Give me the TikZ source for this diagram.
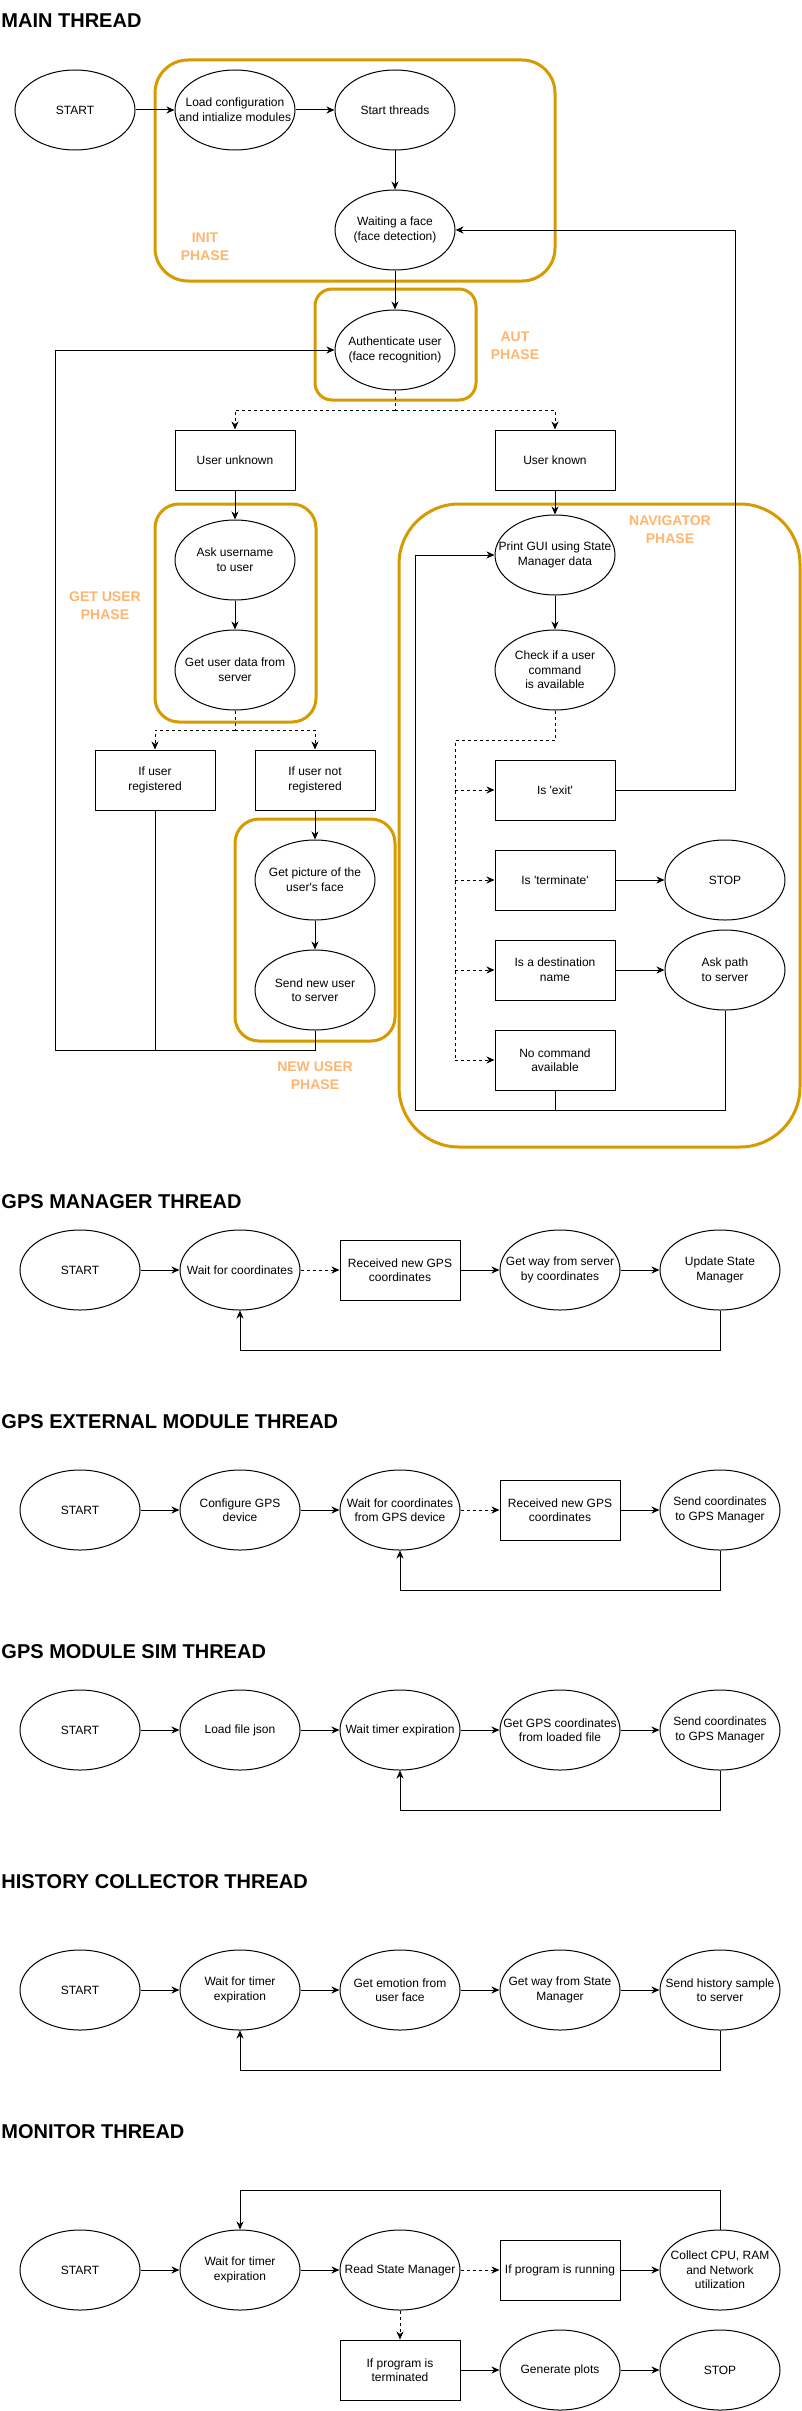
\documentclass[tikz,border=0pt]{standalone}
\usepackage{fontspec}
\setmainfont{Liberation Sans}
\usetikzlibrary{arrows.meta,shapes.geometric}
\definecolor{phase}{HTML}{D79B00}
\definecolor{phasetxt}{HTML}{FFB570}
\newcommand\EN[3]{\node[ell] (#1) at (#2) {}; \node[txt] at (#1.center) {#3};}
\begin{document}
\begin{tikzpicture}[x=1pt,y=-1pt,
  ell/.style={draw, ellipse, minimum width=120pt, minimum height=80pt, inner sep=0pt},
  txt/.style={align=center, inner sep=0pt, font=\fontsize{12}{14.6}\selectfont},
  box/.style={draw, rectangle, minimum width=120pt, minimum height=60pt, inner sep=0pt, align=center, font=\fontsize{12}{14.6}\selectfont},
  arr/.style={-{Stealth[length=8pt,width=7pt,inset=2.5pt]}},
  dsh/.style={dash pattern=on 3pt off 3pt},
  phasebox/.style={draw=phase, line width=3pt},
  phaselbl/.style={text=phasetxt, font=\bfseries\fontsize{14}{18}\selectfont, align=center, inner sep=0pt},
  title/.style={font=\bfseries\fontsize{20}{24}\selectfont, anchor=base west, inner sep=0pt},
  line width=1pt]
\fill[white] (0,0) rectangle (802,2411);
\useasboundingbox (0,0) rectangle (802,2411);

% ---------------- MAIN THREAD ----------------
\node[title] (t1) at (1,28) {MAIN THREAD};

\draw[phasebox, rounded corners=33pt] (155,60) rectangle (555,281);
\draw[phasebox, rounded corners=17pt] (315,289) rectangle (476,400);
\draw[phasebox, rounded corners=24pt] (155,504) rectangle (316,722);
\draw[phasebox, rounded corners=24pt] (235,819) rectangle (395,1041);
\draw[phasebox, rounded corners=60pt] (399,504) rectangle (800,1147);

\node[phaselbl] (l1) at (205,247) {INIT\\PHASE};
\node[phaselbl] (l2) at (515,346) {AUT\\PHASE};
\node[phaselbl] (l3) at (105,606) {GET USER\\PHASE};
\node[phaselbl] (l4) at (670,530) {NAVIGATOR\\PHASE};
\node[phaselbl] (l5) at (315,1076) {NEW USER\\PHASE};

\EN{start1}{75,110}{START}
\EN{load}{235,110}{Load configuration\\and intialize modules}
\EN{startthr}{395,110}{Start threads}
\EN{waitface}{395,230}{Waiting a face\\(face detection)}
\EN{auth}{395,350}{Authenticate user\\(face recognition)}
\node[box] (unknown) at (235,460) {User unknown};
\node[box] (known) at (555,460) {User known};
\EN{askname}{235,560}{Ask username\\to user}
\EN{getdata}{235,670}{Get user data from\\server}
\node[box] (registered) at (155,780) {If user\\registered};
\node[box] (notreg) at (315,780) {If user not\\registered};
\EN{picture}{315,880}{Get picture of the\\user\textquotesingle s face}
\EN{sendnew}{315,990}{Send new user\\to server}
\EN{printgui}{555,555}{Print GUI using State\\Manager data}
\EN{check}{555,670}{Check if a user\\command\\is available}
\node[box] (exit) at (555,790) {Is \textquotesingle exit\textquotesingle};
\node[box] (terminate) at (555,880) {Is \textquotesingle terminate\textquotesingle};
\EN{stop1}{725,880}{STOP}
\node[box] (dest) at (555,970) {Is a destination\\name};
\EN{askpath}{725,970}{Ask path\\to server}
\node[box] (nocmd) at (555,1060) {No command\\available};

\draw[arr] (start1) -- (load);
\draw[arr] (load) -- (startthr);
\draw[arr] (startthr) -- (waitface);
\draw[arr] (waitface) -- (auth);

\coordinate (s1) at (395,410);
\draw[dsh] (auth.south) -- (s1);
\draw[dsh,arr] (s1) -| (unknown.north);
\draw[dsh,arr] (s1) -| (known.north);

\draw[arr] (unknown) -- (askname);
\draw[arr] (askname) -- (getdata);

\coordinate (s2) at (235,730);
\draw[dsh] (getdata.south) -- (s2);
\draw[dsh,arr] (s2) -| (registered.north);
\draw[dsh,arr] (s2) -| (notreg.north);

\draw[arr] (notreg) -- (picture);
\draw[arr] (picture) -- (sendnew);

\coordinate (j1) at (315,1050);
\coordinate (j2) at (55,1050);
\coordinate (j3) at (55,350);
\draw[arr] (sendnew.south) -- (j1) -- (j2) -- (j3) -- (auth.west);
\draw (registered.south) -- (registered.south |- j1);

\draw[arr] (known) -- (printgui);
\draw[arr] (printgui) -- (check);

\coordinate (c1) at (555,740);
\coordinate (c2) at (455,740);
\draw[dsh] (check.south) -- (c1) -- (c2) -- (c2 |- nocmd);
\draw[dsh,arr] (c2 |- exit) -- (exit.west);
\draw[dsh,arr] (c2 |- terminate) -- (terminate.west);
\draw[dsh,arr] (c2 |- dest) -- (dest.west);
\draw[dsh,arr] (c2 |- nocmd) -- (nocmd.west);

\coordinate (e2) at (735,230);
\draw[arr] (exit.east) -| (e2) -- (waitface.east);

\draw[arr] (terminate) -- (stop1);
\draw[arr] (dest) -- (askpath);

\coordinate (p1) at (415,1110);
\draw[arr] (askpath.south) |- (p1) -- (p1 |- printgui) -- (printgui.west);
\draw (nocmd.south) -- (nocmd.south |- p1);

% ---------------- GPS MANAGER THREAD ----------------
\node[title] (t2) at (1,1208) {GPS MANAGER THREAD};
\EN{g1s}{80,1270}{START}
\EN{g1w}{240,1270}{Wait for coordinates}
\node[box] (g1r) at (400,1270) {Received new GPS\\coordinates};
\EN{g1g}{560,1270}{Get way from server\\by coordinates}
\EN{g1u}{720,1270}{Update State\\Manager}
\draw[arr] (g1s) -- (g1w);
\draw[dsh,arr] (g1w) -- (g1r);
\draw[arr] (g1r) -- (g1g);
\draw[arr] (g1g) -- (g1u);
\coordinate (g1l) at (720,1350);
\draw[arr] (g1u.south) -- (g1l) -| (g1w.south);

% ---------------- GPS EXTERNAL MODULE THREAD ----------------
\node[title] (t3) at (1,1428) {GPS EXTERNAL MODULE THREAD};
\EN{g2s}{80,1510}{START}
\EN{g2c}{240,1510}{Configure GPS\\device}
\EN{g2w}{400,1510}{Wait for coordinates\\from GPS device}
\node[box] (g2r) at (560,1510) {Received new GPS\\coordinates};
\EN{g2n}{720,1510}{Send coordinates\\to GPS Manager}
\draw[arr] (g2s) -- (g2c);
\draw[arr] (g2c) -- (g2w);
\draw[dsh,arr] (g2w) -- (g2r);
\draw[arr] (g2r) -- (g2n);
\coordinate (g2l) at (720,1590);
\draw[arr] (g2n.south) -- (g2l) -| (g2w.south);

% ---------------- GPS MODULE SIM THREAD ----------------
\node[title] (t4) at (1,1658) {GPS MODULE SIM THREAD};
\EN{g3s}{80,1730}{START}
\EN{g3l}{240,1730}{Load file json}
\EN{g3w}{400,1730}{Wait timer expiration}
\EN{g3g}{560,1730}{Get GPS coordinates\\from loaded file}
\EN{g3n}{720,1730}{Send coordinates\\to GPS Manager}
\draw[arr] (g3s) -- (g3l);
\draw[arr] (g3l) -- (g3w);
\draw[arr] (g3w) -- (g3g);
\draw[arr] (g3g) -- (g3n);
\coordinate (g3b) at (720,1810);
\draw[arr] (g3n.south) -- (g3b) -| (g3w.south);

% ---------------- HISTORY COLLECTOR THREAD ----------------
\node[title] (t5) at (1,1888) {HISTORY COLLECTOR THREAD};
\EN{h1s}{80,1990}{START}
\EN{h1w}{240,1990}{Wait for timer\\expiration}
\EN{h1e}{400,1990}{Get emotion from\\user face}
\EN{h1g}{560,1990}{Get way from State\\Manager}
\EN{h1n}{720,1990}{Send history sample\\to server}
\draw[arr] (h1s) -- (h1w);
\draw[arr] (h1w) -- (h1e);
\draw[arr] (h1e) -- (h1g);
\draw[arr] (h1g) -- (h1n);
\coordinate (h1b) at (720,2070);
\draw[arr] (h1n.south) -- (h1b) -| (h1w.south);

% ---------------- MONITOR THREAD ----------------
\node[title] (t6) at (1,2138) {MONITOR THREAD};
\EN{m1s}{80,2270}{START}
\EN{m1w}{240,2270}{Wait for timer\\expiration}
\EN{m1r}{400,2270}{Read State Manager}
\node[box] (m1p) at (560,2270) {If program is running};
\EN{m1c}{720,2270}{Collect CPU, RAM\\and Network\\utilization}
\node[box] (m1t) at (400,2370) {If program is\\terminated};
\EN{m1g}{560,2370}{Generate plots}
\EN{m1x}{720,2370}{STOP}
\draw[arr] (m1s) -- (m1w);
\draw[arr] (m1w) -- (m1r);
\draw[dsh,arr] (m1r) -- (m1p);
\draw[arr] (m1p) -- (m1c);
\coordinate (m1top) at (720,2190);
\draw[arr] (m1c.north) -- (m1top) -| (m1w.north);
\draw[dsh,arr] (m1r) -- (m1t);
\draw[arr] (m1t) -- (m1g);
\draw[arr] (m1g) -- (m1x);
\end{tikzpicture}
\end{document}
